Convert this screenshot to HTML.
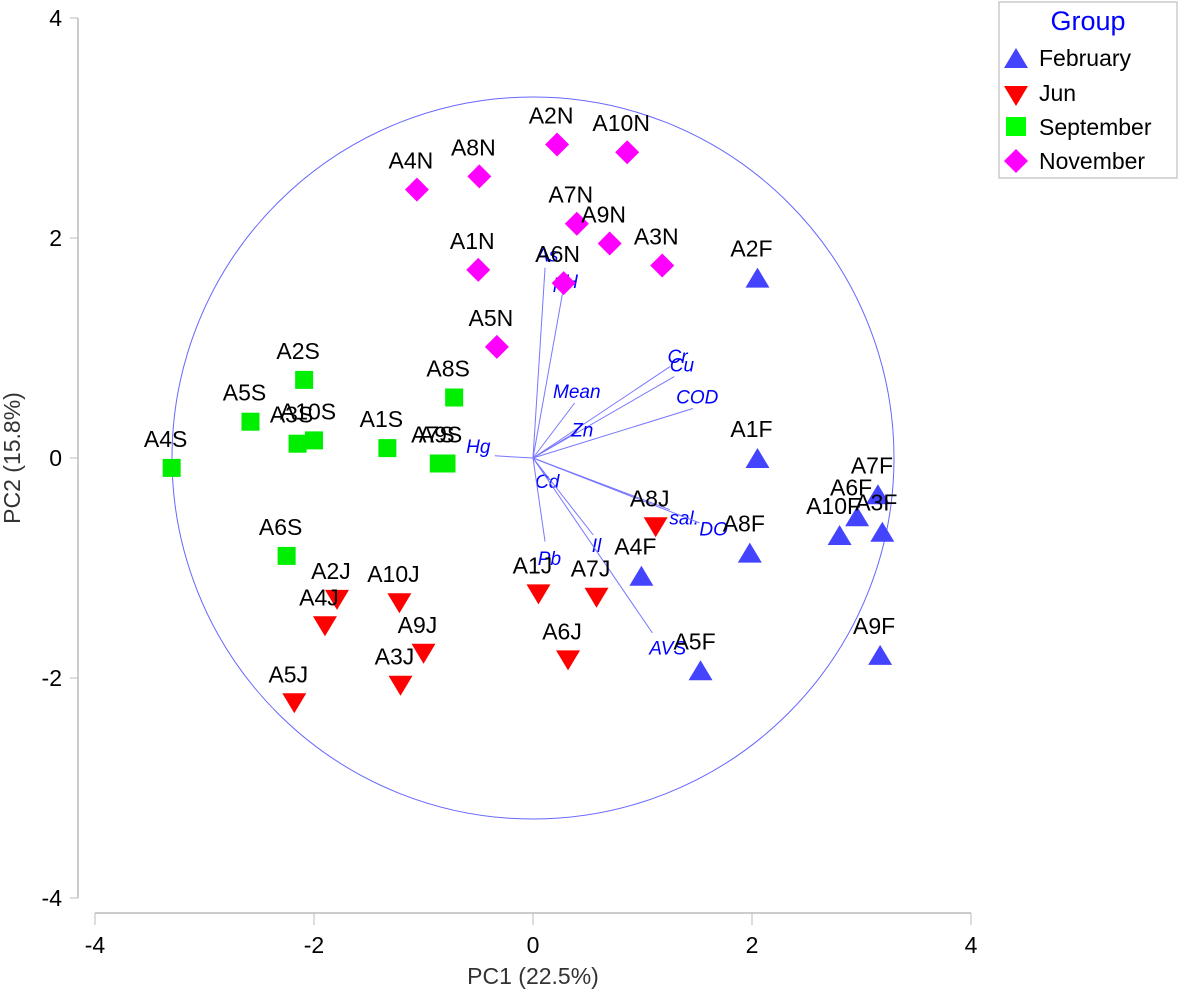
<!DOCTYPE html>
<html><head><meta charset="utf-8"><style>
body{margin:0;background:#fff;}
svg{display:block;font-family:"Liberation Sans",Arial,sans-serif;}
</style></head><body>
<svg id="chart" width="1181" height="991" viewBox="0 0 1181 991">
<g id="axes"></g>
<g id="vecs"></g>
<g id="pts"></g>
<g id="legend">
<rect x="999" y="2" width="178" height="176" fill="#fff" stroke="#ccc" stroke-width="1.5"/>
<text x="1088" y="30" font-size="27" fill="#0000ff" text-anchor="middle">Group</text>
<polygon points="1004,68 1016,48 1028,68" fill="#4444ff"/>
<text x="1039" y="66" font-size="23">February</text>
<polygon points="1004,86 1028,86 1016,106" fill="#ff0000"/>
<text x="1039" y="101" font-size="23">Jun</text>
<rect x="1006" y="117" width="20" height="19" fill="#00ff00"/>
<text x="1039" y="135" font-size="23">September</text>
<polygon points="1016,149 1028,161 1016,173 1004,161" fill="#ff00ff"/>
<text x="1039" y="169" font-size="23">November</text>
</g>
</svg>
<script>
const xTicks=[-4,-2,0,2,4];
const yTicks=[-4,-2,0,2,4];
const vecNames=["As","pH","Mean","Cr","Cu","COD","Zn","Hg","Cd","sal.","DO","Il","Pb","AVS"];
const vecX=[0.11,0.27,0.38,1.25,1.29,1.46,0.40,-0.35,0.15,1.25,1.52,0.55,0.11,1.09];
const vecY=[1.73,1.50,0.50,0.83,0.74,0.45,0.24,0.02,-0.20,-0.47,-0.59,-0.70,-0.76,-1.59];
const vecLX=[0.13,0.30,0.40,1.32,1.36,1.50,0.45,-0.50,0.13,1.38,1.65,0.58,0.15,1.23];
const vecLY=[1.84,1.60,0.60,0.92,0.84,0.55,0.25,0.10,-0.22,-0.55,-0.65,-0.80,-0.92,-1.73];
const ptNames=[
["A2F","A1F","A7F","A6F","A10F","A3F","A8F","A4F","A5F","A9F"],
["A8J","A1J","A7J","A6J","A2J","A4J","A10J","A9J","A3J","A5J"],
["A2S","A5S","A3S","A10S","A1S","A8S","A9S","A7S","A4S","A6S"],
["A2N","A10N","A4N","A8N","A7N","A9N","A3N","A1N","A6N","A5N"]];
const ptX=[
[2.05,2.05,3.15,2.96,2.80,3.19,1.98,0.99,1.53,3.17],
[1.12,0.05,0.58,0.32,-1.79,-1.90,-1.22,-1.00,-1.21,-2.18],
[-2.09,-2.58,-2.15,-2.00,-1.33,-0.72,-0.79,-0.86,-3.30,-2.25],
[0.22,0.86,-1.06,-0.49,0.40,0.70,1.18,-0.50,0.28,-0.33]];
const ptY=[
[1.64,0.00,-0.33,-0.53,-0.70,-0.67,-0.86,-1.07,-1.93,-1.79],
[-0.63,-1.24,-1.27,-1.84,-1.29,-1.53,-1.32,-1.78,-2.07,-2.23],
[0.71,0.33,0.13,0.16,0.09,0.55,-0.05,-0.05,-0.09,-0.89],
[2.85,2.78,2.44,2.56,2.13,1.95,1.75,1.71,1.59,1.01]];
const NS="http://www.w3.org/2000/svg";
const sx=v=>533+v*109.5, sy=v=>458-v*110;
function mk(tag,attrs,parent,txt){const e=document.createElementNS(NS,tag);for(const k in attrs)e.setAttribute(k,attrs[k]);if(txt!==undefined)e.textContent=txt;parent.appendChild(e);return e;}
const ax=document.getElementById('axes');
let l;
l=mk('line',{x1:sx(-4),x2:sx(4),y1:913,y2:913,stroke:'#bbb','stroke-width':1.5},ax);


l=mk('line',{x1:78,x2:78,y1:sy(4),y2:sy(-4),stroke:'#bbb','stroke-width':1.5},ax);


xTicks.forEach(t=>{mk('line',{x1:sx(t),x2:sx(t),y1:913,y2:925,stroke:'#bbb'},ax);
const tx=mk('text',{x:sx(t),y:953,'font-size':23,'text-anchor':'middle'},ax,String(t));

});
yTicks.forEach(t=>{mk('line',{x1:70,x2:78,y1:sy(t),y2:sy(t),stroke:'#bbb'},ax);
const tx=mk('text',{x:62,y:sy(t)+8,'font-size':23,'text-anchor':'end'},ax,String(t));

});
l=mk('text',{x:533,y:984,'font-size':23,'text-anchor':'middle',fill:'#333'},ax,'PC1 (22.5%)');


l=mk('text',{x:0,y:0,'font-size':23,'text-anchor':'middle',fill:'#333',transform:'translate(20,458) rotate(-90)'},ax,'PC2 (15.8%)');


l=mk('circle',{cx:533,cy:458,r:361,fill:'none',stroke:'#6666ff','stroke-width':1},ax);


const vg=document.getElementById('vecs');
vecNames.forEach((n,i)=>{
const ln=mk('line',{x1:sx(0),y1:sy(0),x2:sx(vecX[i]),y2:sy(vecY[i]),stroke:'#7777ff','stroke-width':1},vg);


const t=mk('text',{x:sx(vecLX[i]),y:sy(vecLY[i])+6,'font-size':19,'font-style':'italic',fill:'#0000ff','text-anchor':'middle'},vg,n);

});
const pg=document.getElementById('pts');
ptNames.forEach((arr,g)=>arr.forEach((n,i)=>{
const x=sx(ptX[g][i]),y=sy(ptY[g][i]);let m;
if(g===0)m=mk('polygon',{points:`${x-12},${y+10} ${x},${y-10} ${x+12},${y+10}`,fill:'#4444ff'},pg);
else if(g===1)m=mk('polygon',{points:`${x-12},${y-10} ${x+12},${y-10} ${x},${y+10}`,fill:'#ff0000'},pg);
else if(g===2)m=mk('rect',{x:x-9,y:y-9,width:18,height:18,fill:'#00ee00'},pg);
else m=mk('polygon',{points:`${x},${y-12} ${x+12},${y} ${x},${y+12} ${x-12},${y}`,fill:'#ff00ff'},pg);


const t=mk('text',{x:x-6,y:y-21,'font-size':23,'text-anchor':'middle'},pg,n);

}));
</script>
</body></html>
